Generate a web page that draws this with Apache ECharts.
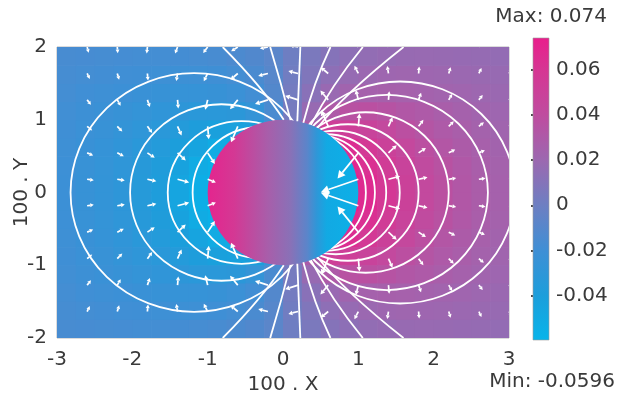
<!DOCTYPE html>
<html>
<head>
<meta charset="utf-8">
<script src="https://cdn.jsdelivr.net/npm/echarts@6/dist/echarts.min.js"></script>
<style>
  html, body { margin: 0; padding: 0; background: #fff; }
  #chart { width: 617px; height: 403px; }
</style>
</head>
<body>
<div id="chart"></div>
<script>
// ---- potential range and axes ----
const potMin = -0.0596;
const potMax = 0.074;
const barTicks = [-0.04, -0.02, 0, 0.02, 0.04, 0.06];
const xTicks = [-3, -2, -1, 0, 1, 2, 3];
const yTicks = [-2, -1, 0, 1, 2];

// colour scale of the potential (value -> colour)
const scaleValues = [-0.0596, -0.04, -0.02, 0, 0.02, 0.04, 0.06, 0.074];
const scaleColors = ['#08b4ea', '#1c9edb', '#3f8fd5', '#6d7fc2', '#9c68b0', '#bf4c9f', '#d63693', '#e91e8c'];

// ---- potential outside the particle, sampled on a 0.25 grid (upper half, y > 0) ----
const cellX = [-2.875, -2.625, -2.375, -2.125, -1.875, -1.625, -1.375, -1.125, -0.875, -0.625, -0.375, -0.125,
               0.125, 0.375, 0.625, 0.875, 1.125, 1.375, 1.625, 1.875, 2.125, 2.375, 2.625, 2.875];
const cellYUpper = [0.125, 0.375, 0.625, 0.875, 1.125, 1.375, 1.625, 1.875];
const potentialUpper = [
  [-0.0215,-0.0245,-0.0268,-0.0298,-0.0345,-0.0390,-0.0460,-0.0545,-0.0590,-0.0585,-0.0567,-0.0427, 0.0517,0.0701,0.0726,0.0732,0.0660,0.0580,0.0500,0.0430,0.0370,0.0320,0.0280,0.0250],
  [-0.0212,-0.0240,-0.0263,-0.0292,-0.0335,-0.0378,-0.0440,-0.0510,-0.0565,-0.0514,-0.0427,-0.0202, 0.0220,0.0517,0.0631,0.0678,0.0630,0.0550,0.0480,0.0410,0.0360,0.0310,0.0270,0.0245],
  [-0.0206,-0.0232,-0.0255,-0.0282,-0.0315,-0.0355,-0.0400,-0.0455,-0.0510,-0.0500,-0.0316,-0.0133, 0.0129,0.0371,0.0517,0.0640,0.0570,0.0500,0.0440,0.0380,0.0330,0.0290,0.0260,0.0235],
  [-0.0198,-0.0222,-0.0242,-0.0265,-0.0290,-0.0320,-0.0355,-0.0390,-0.0420,-0.0430,-0.0400,-0.0250, 0.0087,0.0279,0.0520,0.0520,0.0480,0.0430,0.0380,0.0340,0.0300,0.0270,0.0245,0.0225],
  [-0.0190,-0.0210,-0.0226,-0.0243,-0.0262,-0.0282,-0.0300,-0.0315,-0.0320,-0.0310,-0.0260,-0.0150, 0.0040,0.0180,0.0300,0.0360,0.0370,0.0350,0.0320,0.0300,0.0270,0.0250,0.0230,0.0210],
  [-0.0180,-0.0195,-0.0207,-0.0220,-0.0232,-0.0243,-0.0250,-0.0252,-0.0245,-0.0225,-0.0185,-0.0110, 0.0030,0.0120,0.0188,0.0230,0.0251,0.0256,0.0253,0.0244,0.0232,0.0220,0.0207,0.0195],
  [-0.0170,-0.0180,-0.0188,-0.0196,-0.0203,-0.0208,-0.0210,-0.0207,-0.0198,-0.0180,-0.0150,-0.0095, 0.0016,0.0082,0.0137,0.0175,0.0199,0.0211,0.0214,0.0211,0.0206,0.0198,0.0189,0.0180],
  [-0.0160,-0.0166,-0.0171,-0.0176,-0.0179,-0.0180,-0.0178,-0.0172,-0.0162,-0.0145,-0.0120,-0.0080, 0.0007,0.0058,0.0102,0.0135,0.0159,0.0173,0.0181,0.0183,0.0181,0.0177,0.0172,0.0165]
];
const cellHalf = 0.125;

// ---- potential across the particle (it varies along x only) ----
const diskX = [-1.0, -0.65, -0.2, 0.1, 0.32, 0.45, 0.58, 1.0];
const diskPotential = [0.070, 0.058, 0.027, 0.012, -0.008, -0.030, -0.050, -0.056];
const diskRadius = 1;

// ---- equipotential contours: [centre x, radius] ----
const contoursLeft = [[-1.18, 1.64], [-0.817, 1.213], [-0.55, 0.98], [-0.30, 0.90]];
const contoursRight = [[1.554, 1.526], [1.379, 1.341], [1.097, 1.103], [0.862, 0.938],
                       [0.701, 0.849], [0.569, 0.801], [0.428, 0.792], [0.2625, 0.8375]];

// ---- field lines leaving the top of the particle: start, middle, end ----
const fanLinesUpper = [
  [0.01, 1.00, -0.33, 1.47, -0.80, 2.00],
  [0.10, 0.995, -0.03, 1.50, -0.17, 2.00],
  [0.19, 0.98, 0.21, 1.50, 0.23, 2.00],
  [0.27, 0.96, 0.43, 1.50, 0.63, 2.00],
  [0.37, 0.93, 0.68, 1.47, 1.06, 2.00],
  [0.46, 0.89, 0.92, 1.40, 1.60, 2.00]
];

// ---- electric field arrows on a 15 x 11 grid: direction (deg) and relative strength ----
const arrowX = [-2.6, -2.2, -1.8, -1.4, -1.0, -0.6, -0.2, 0.2, 0.6, 1.0, 1.4, 1.8, 2.2, 2.6, 3.0];
const arrowY = [2.0, 1.636, 1.273, 0.909, 0.545, 0.182, -0.182, -0.545, -0.909, -1.273, -1.636];
const arrowAngle = [
  [-75, -85, -96, -110, -127, -147, -169, 169, 147, 127, 110, 96, 85, 75, 67],
  [-64, -73, -85, -99, -117, -140, -166, 166, 140, 117, 99, 85, 73, 64, 57],
  [-52, -60, -71, -85, -104, -130, -162, 162, 130, 104, 85, 71, 60, 52, 46],
  [-39, -45, -54, -66, -85, -113, 0, 0, 113, 85, 66, 54, 45, 39, 34],
  [-24, -28, -34, -43, -57, 0, 0, 0, 0, -129, 43, 34, 28, 24, 21],
  [-8, -9, -12, -15, -21, 0, 0, 0, 0, -161, 15, 12, 9, 8, 7],
  [8, 9, 12, 15, 21, 0, 0, 0, 0, 161, -15, -12, -9, -8, -7],
  [24, 28, 34, 43, 57, 0, 0, 0, 0, 129, -43, -34, -28, -24, -21],
  [39, 45, 54, 66, 85, 113, 0, 0, -113, -85, -66, -54, -45, -39, -34],
  [52, 60, 71, 85, 104, 130, 162, -162, -130, -104, -85, -71, -60, -52, -46],
  [64, 73, 85, 99, 117, 140, 166, -166, -140, -117, -99, -85, -73, -64, -57]
];
const arrowStrength = [
  [0.53, 0.56, 0.59, 0.64, 0.68, 0.72, 0.75, 0.75, 0.72, 0.68, 0.64, 0.59, 0.56, 0.53, 0.51],
  [0.55, 0.59, 0.64, 0.70, 0.78, 0.86, 0.91, 0.91, 0.86, 0.78, 0.70, 0.64, 0.59, 0.55, 0.52],
  [0.57, 0.62, 0.69, 0.79, 0.93, 1.10, 1.24, 1.24, 1.10, 0.93, 0.79, 0.69, 0.62, 0.57, 0.53],
  [0.59, 0.65, 0.74, 0.90, 1.17, 1.58, 0, 0, 1.58, 1.17, 0.90, 0.74, 0.65, 0.59, 0.54],
  [0.60, 0.67, 0.80, 1.02, 1.20, 0, 0, 0, 0, 3.0, 1.02, 0.80, 0.67, 0.60, 0.55],
  [0.61, 0.69, 0.83, 1.10, 0.80, 0, 0, 0, 0, 3.6, 1.10, 0.83, 0.69, 0.61, 0.56],
  [0.61, 0.69, 0.83, 1.10, 0.80, 0, 0, 0, 0, 3.6, 1.10, 0.83, 0.69, 0.61, 0.56],
  [0.60, 0.67, 0.80, 1.02, 1.20, 0, 0, 0, 0, 3.0, 1.02, 0.80, 0.67, 0.60, 0.55],
  [0.59, 0.65, 0.74, 0.90, 1.17, 1.58, 0, 0, 1.58, 1.17, 0.90, 0.74, 0.65, 0.59, 0.54],
  [0.57, 0.62, 0.69, 0.79, 0.93, 1.10, 1.24, 1.24, 1.10, 0.93, 0.79, 0.69, 0.62, 0.57, 0.53],
  [0.55, 0.59, 0.64, 0.70, 0.78, 0.86, 0.91, 0.91, 0.86, 0.78, 0.70, 0.64, 0.59, 0.55, 0.52]
];

// ---------------------------------------------------------------
const FONT = 'DejaVu Sans';
const TEXT_COLOR = '#3a3a3a';
const LINE_WHITE = '#ffffff';
const ARROW_PX = 11;   // pixels per unit of relative field strength

function hexToRgb(h) {
  const n = parseInt(h.slice(1), 16);
  return [(n >> 16) & 255, (n >> 8) & 255, n & 255];
}
function colorAt(v) {
  v = Math.max(potMin, Math.min(potMax, v));
  for (let i = 1; i < scaleValues.length; i++) {
    if (v <= scaleValues[i]) {
      const t = (v - scaleValues[i - 1]) / (scaleValues[i] - scaleValues[i - 1]);
      const a = hexToRgb(scaleColors[i - 1]), b = hexToRgb(scaleColors[i]);
      return 'rgb(' + a.map((c, k) => Math.round(c + (b[k] - c) * t)).join(',') + ')';
    }
  }
  return scaleColors[scaleColors.length - 1];
}
// evenly spaced colour list for the visualMap
const mapColors = [];
for (let i = 0; i <= 40; i++) mapColors.push(colorAt(potMin + (potMax - potMin) * i / 40));

// heat cells: upper half as sampled, lower half is its mirror image about y = 0
const heatData = [];
cellYUpper.forEach((y, j) => {
  cellX.forEach((x, i) => {
    heatData.push([x, y, potentialUpper[j][i]]);
    heatData.push([x, -y, potentialUpper[j][i]]);
  });
});

const contourData = contoursLeft.concat(contoursRight);
const fanData = [];
fanLinesUpper.forEach(l => {
  fanData.push(l);
  fanData.push([l[0], -l[1], l[2], -l[3], l[4], -l[5]]);
});
const arrowData = [];
arrowY.forEach((y, j) => arrowX.forEach((x, i) => arrowData.push([x, y, arrowAngle[j][i], arrowStrength[j][i]])));

function ellipsePath(cx, cy, rx, ry) {
  return 'M' + (cx - rx) + ',' + cy +
    'A' + rx + ',' + ry + ',0,1,0,' + (cx + rx) + ',' + cy +
    'A' + rx + ',' + ry + ',0,1,0,' + (cx - rx) + ',' + cy + 'Z';
}

function renderCell(params, api) {
  const x = api.value(0), y = api.value(1);
  const p0 = api.coord([x - cellHalf, y + cellHalf]);
  const p1 = api.coord([x + cellHalf, y - cellHalf]);
  return {
    type: 'rect',
    shape: { x: p0[0], y: p0[1], width: p1[0] - p0[0] + 0.7, height: p1[1] - p0[1] + 0.7 },
    style: { fill: api.visual('color') }
  };
}

function renderContour(params, api) {
  const c = api.coord([api.value(0), 0]);
  const s = api.size([api.value(1), api.value(1)]);
  return {
    type: 'path',
    shape: { pathData: ellipsePath(c[0], c[1], s[0], s[1]) },
    style: { stroke: LINE_WHITE, lineWidth: 1.8, fill: null }
  };
}

function renderDisk(params, api) {
  const c = api.coord([api.value(0), api.value(1)]);
  const s = api.size([api.value(2), api.value(2)]);
  const stops = diskX.map((x, i) => ({ offset: (x + diskRadius) / (2 * diskRadius), color: colorAt(diskPotential[i]) }));
  return {
    type: 'path',
    shape: { pathData: ellipsePath(c[0], c[1], s[0], s[1]) },
    style: { fill: new echarts.graphic.LinearGradient(0, 0, 1, 0, stops), stroke: null }
  };
}

function renderFan(params, api) {
  const p0 = api.coord([api.value(0), api.value(1)]);
  const p1 = api.coord([api.value(2), api.value(3)]);
  const p2 = api.coord([api.value(4), api.value(5)]);
  const cp = [2 * p1[0] - (p0[0] + p2[0]) / 2, 2 * p1[1] - (p0[1] + p2[1]) / 2];
  return {
    type: 'bezierCurve',
    shape: { x1: p0[0], y1: p0[1], x2: p2[0], y2: p2[1], cpx1: cp[0], cpy1: cp[1] },
    style: { stroke: LINE_WHITE, lineWidth: 1.8, fill: null }
  };
}

function renderArrow(params, api) {
  const strength = api.value(3);
  if (!strength) return null;
  const p = api.coord([api.value(0), api.value(1)]);
  const a = api.value(2) * Math.PI / 180;
  const len = strength * ARROW_PX;
  const ux = Math.cos(a), uy = -Math.sin(a);
  const tip = [p[0] + ux * len, p[1] + uy * len];
  const hl = Math.min(8, 2.6 + len * 0.15);
  const hw = hl * 0.55;
  const base = [tip[0] - ux * hl, tip[1] - uy * hl];
  return {
    type: 'group',
    children: [
      { type: 'line', shape: { x1: p[0], y1: p[1], x2: base[0], y2: base[1] },
        style: { stroke: LINE_WHITE, lineWidth: 1.7 } },
      { type: 'polygon',
        shape: { points: [tip, [base[0] - uy * hw, base[1] + ux * hw], [base[0] + uy * hw, base[1] - ux * hw]] },
        style: { fill: LINE_WHITE } }
    ]
  };
}

function renderBar(params, api) {
  const p0 = api.coord([0, potMax]);
  const p1 = api.coord([1, potMin]);
  const stops = scaleValues.map((v, i) => ({ offset: (potMax - v) / (potMax - potMin), color: scaleColors[i] }));
  return {
    type: 'rect',
    shape: { x: p0[0], y: p0[1], width: p1[0] - p0[0], height: p1[1] - p0[1] },
    style: { fill: new echarts.graphic.LinearGradient(0, 0, 0, 1, stops), stroke: '#9a9a9a', lineWidth: 0.6 }
  };
}

const chart = echarts.init(document.getElementById('chart'), null, { renderer: 'canvas' });
const labelStyle = { color: TEXT_COLOR, fontFamily: FONT, fontSize: 20 };

chart.setOption({
  animation: false,
  backgroundColor: '#ffffff',
  grid: [
    { left: 57, top: 47, width: 452, height: 291, show: true, borderColor: '#b8b8b8', borderWidth: 1,
      backgroundColor: 'transparent', containLabel: false, outerBoundsMode: 'none' },
    { left: 533, top: 38, width: 16, height: 302, containLabel: false, outerBoundsMode: 'none' }
  ],
  xAxis: [
    {
      type: 'value', gridIndex: 0, min: -3, max: 3, interval: 1,
      axisLine: { show: false }, axisTick: { show: false }, splitLine: { show: false },
      axisLabel: Object.assign({ margin: 12, customValues: xTicks }, labelStyle),
      name: '100 . X', nameLocation: 'middle', nameGap: 37, nameMoveOverlap: false,
      nameTextStyle: labelStyle
    },
    { type: 'value', gridIndex: 1, min: 0, max: 1, show: false }
  ],
  yAxis: [
    {
      type: 'value', gridIndex: 0, min: -2, max: 2, interval: 1,
      axisLine: { show: false }, axisTick: { show: false }, splitLine: { show: false },
      axisLabel: Object.assign({ margin: 10, customValues: yTicks }, labelStyle),
      name: '100 . Y', nameLocation: 'middle', nameGap: 25, nameRotate: 90, nameMoveOverlap: false,
      nameTextStyle: labelStyle
    },
    {
      type: 'value', gridIndex: 1, min: potMin, max: potMax, position: 'right',
      axisLine: { show: false }, splitLine: { show: false },
      axisTick: { show: true, inside: true, length: 2, customValues: barTicks, lineStyle: { color: '#111', width: 1.5 } },
      axisLabel: Object.assign({ margin: 7, customValues: barTicks, formatter: v => String(v) }, labelStyle)
    },
    {
      type: 'value', gridIndex: 1, min: potMin, max: potMax, position: 'left',
      axisLine: { show: false }, splitLine: { show: false }, axisLabel: { show: false },
      axisTick: { show: true, inside: true, length: 2, customValues: barTicks, lineStyle: { color: '#111', width: 1.5 } }
    }
  ],
  visualMap: {
    type: 'continuous', show: false, min: potMin, max: potMax, dimension: 2, seriesIndex: 0,
    inRange: { color: mapColors }
  },
  series: [
    { type: 'custom', name: 'potential', xAxisIndex: 0, yAxisIndex: 0, clip: true, renderItem: renderCell, data: heatData, z: 1 },
    { type: 'custom', name: 'contours', xAxisIndex: 0, yAxisIndex: 0, clip: true, renderItem: renderContour, data: contourData, z: 2 },
    { type: 'custom', name: 'particle', xAxisIndex: 0, yAxisIndex: 0, clip: true, renderItem: renderDisk, data: [[0, 0, diskRadius]], z: 3 },
    { type: 'custom', name: 'field lines', xAxisIndex: 0, yAxisIndex: 0, clip: true, renderItem: renderFan, data: fanData, z: 4 },
    { type: 'custom', name: 'field', xAxisIndex: 0, yAxisIndex: 0, clip: true, renderItem: renderArrow, data: arrowData, z: 5 },
    { type: 'custom', name: 'colour bar', xAxisIndex: 1, yAxisIndex: 1, renderItem: renderBar, data: [[0]], z: 1 }
  ],
  graphic: [
    { type: 'text', right: 10, top: 7, style: { text: 'Max: 0.074', fill: TEXT_COLOR, font: '20px "DejaVu Sans"' } },
    { type: 'text', right: 2, top: 372, style: { text: 'Min: -0.0596', fill: TEXT_COLOR, font: '20px "DejaVu Sans"' } }
  ]
});
</script>
</body>
</html>
